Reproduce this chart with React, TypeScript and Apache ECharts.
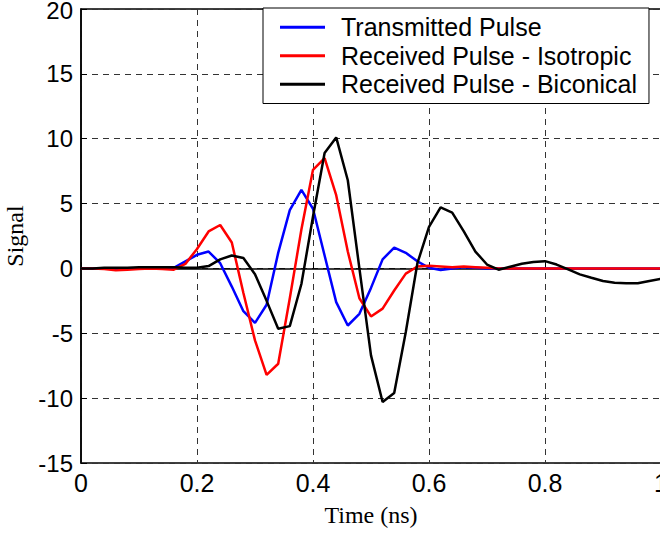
import React, { useEffect, useRef } from "react";
import * as echarts from "echarts";

const timeNs = [
  0, 0.02, 0.04, 0.06, 0.08, 0.1, 0.12, 0.14, 0.16, 0.18,
  0.2, 0.22, 0.24, 0.26, 0.28, 0.3, 0.32, 0.34, 0.36, 0.38,
  0.4, 0.42, 0.44, 0.46, 0.48, 0.5, 0.52, 0.54, 0.56, 0.58,
  0.6, 0.62, 0.64, 0.66, 0.68, 0.7, 0.72, 0.74, 0.76, 0.78,
  0.8, 0.82, 0.84, 0.86, 0.88, 0.9, 0.92, 0.94, 0.96, 0.98, 1.0,
];

const transmitted = [
  0, 0, 0, 0, 0, 0, 0, 0, 0.05, 0.55,
  1.05, 1.3, 0.4, -1.4, -3.3, -4.2, -2.8, 1.2, 4.5, 6.05,
  4.6, 1.0, -2.6, -4.4, -3.5, -1.5, 0.7, 1.6, 1.2, 0.55,
  0.05, -0.12, 0, 0.1, 0.05, 0, 0, 0, 0, 0,
  0, 0, 0, 0, 0, 0, 0, 0, 0, 0, 0,
];

const isotropic = [
  0, 0, -0.05, -0.15, -0.1, -0.05, 0, -0.05, -0.1, 0.35,
  1.5, 2.85, 3.35, 2.0, -1.9, -5.55, -8.2, -7.35, -2.3, 3.0,
  7.6, 8.5, 5.65, 1.3, -2.3, -3.7, -3.1, -1.7, -0.4, 0.15,
  0.2, 0.15, 0.1, 0.15, 0.1, 0.05, 0, 0, 0, 0,
  0, 0, 0, 0, 0, 0, 0, 0, 0, 0, 0,
];

const biconical = [
  0, 0, 0.05, 0.05, 0.05, 0.1, 0.1, 0.1, 0.1, 0.05,
  0.05, 0.18, 0.7, 1.0, 0.8, -0.45, -2.5, -4.65, -4.45, -1.2,
  4.0, 8.9, 10.1, 6.8, 0, -6.7, -10.3, -9.6, -4.9, 0.4,
  3.2, 4.7, 4.3, 2.85, 1.3, 0.3, -0.1, 0.13, 0.36, 0.5,
  0.56, 0.3, -0.08, -0.46, -0.72, -0.97, -1.1, -1.15, -1.15, -0.97, -0.8,
];

const seriesNames = [
  "Transmitted Pulse",
  "Received Pulse - Isotropic",
  "Received Pulse - Biconical",
];
const seriesColors = ["#0000ff", "#ff0000", "#000000"];
const seriesData = [transmitted, isotropic, biconical];

export default function App() {
  const ref = useRef<HTMLDivElement>(null);
  useEffect(() => {
    if (!ref.current) return;
    const chart = echarts.init(ref.current, null, { renderer: "svg" });
    const sans = "'Liberation Sans', Arial, sans-serif";
    const serif = "'Liberation Serif', 'Times New Roman', serif";
    chart.setOption({
      animation: false,
      backgroundColor: "#ffffff",
      grid: {
        left: 81,
        top: 9,
        width: 580,
        height: 454,
        show: true,
        borderColor: "#000",
        borderWidth: 1.5,
        backgroundColor: "transparent",
        containLabel: false,
        outerBoundsMode: "none",
      },
      legend: {
        orient: "vertical",
        left: 263,
        top: 8,
        padding: [5, 12, 5, 17],
        itemGap: 0,
        itemWidth: 45,
        itemHeight: 28.5,
        backgroundColor: "#ffffff",
        borderColor: "#000",
        borderWidth: 1,
        borderRadius: 0,
        data: seriesNames.map((n) => ({ name: n, icon: "path://M0,0 L45,0 L45,3 L0,3 Z" })),
        textStyle: {
          fontFamily: sans,
          fontSize: 25,
          color: "#000",
          padding: [0, 0, 0, 11],
          lineHeight: 28.5,
        },
      },
      xAxis: {
        type: "value",
        min: 0,
        max: 1,
        interval: 0.2,
        name: "Time (ns)",
        nameLocation: "middle",
        nameGap: 40,
        nameTextStyle: { fontFamily: serif, fontSize: 24, color: "#000" },
        axisLine: { show: true, lineStyle: { color: "#000", width: 1.5 } },
        axisTick: { show: true, inside: true, length: 6, lineStyle: { color: "#000" } },
        axisLabel: {
          fontFamily: sans,
          fontSize: 25,
          color: "#000",
          margin: 7,
          formatter: (v: number) => String(parseFloat(v.toFixed(1))),
        },
        splitLine: {
          show: true,
          lineStyle: { color: "#333", type: [6, 5], width: 1 },
        },
      },
      yAxis: {
        type: "value",
        min: -15,
        max: 20,
        interval: 5,
        name: "Signal",
        nameLocation: "middle",
        nameRotate: 90,
        nameGap: 50,
        nameTextStyle: { fontFamily: serif, fontSize: 24, color: "#000" },
        axisLine: { show: true, lineStyle: { color: "#000", width: 1.5 } },
        axisTick: { show: true, inside: true, length: 6, lineStyle: { color: "#000" } },
        axisLabel: {
          fontFamily: sans,
          fontSize: 24,
          lineHeight: 18,
          color: "#000",
          margin: 8,
          formatter: (v: number) => (v === 20 ? "{top|20}" : String(v)),
          rich: {
            top: { fontFamily: sans, fontSize: 24, lineHeight: 18, padding: [3, 0, 0, 0], color: "#000" },
          },
        },
        splitLine: {
          show: true,
          lineStyle: { color: "#333", type: [6, 5], width: 1 },
        },
      },
      series: seriesNames.map((name, i) => ({
        name,
        type: "line",
        data: timeNs.map((t, j) => [t, seriesData[i][j]]),
        showSymbol: false,
        symbol: "none",
        lineStyle: { color: seriesColors[i], width: 2.5 },
        itemStyle: { color: seriesColors[i] },
        z: 2 + i,
      })),
    });
    return () => chart.dispose();
  }, []);
  return (
    <div
      ref={ref}
      style={{ position: "fixed", left: 0, top: 0, width: 660, height: 533, background: "#fff" }}
    />
  );
}
